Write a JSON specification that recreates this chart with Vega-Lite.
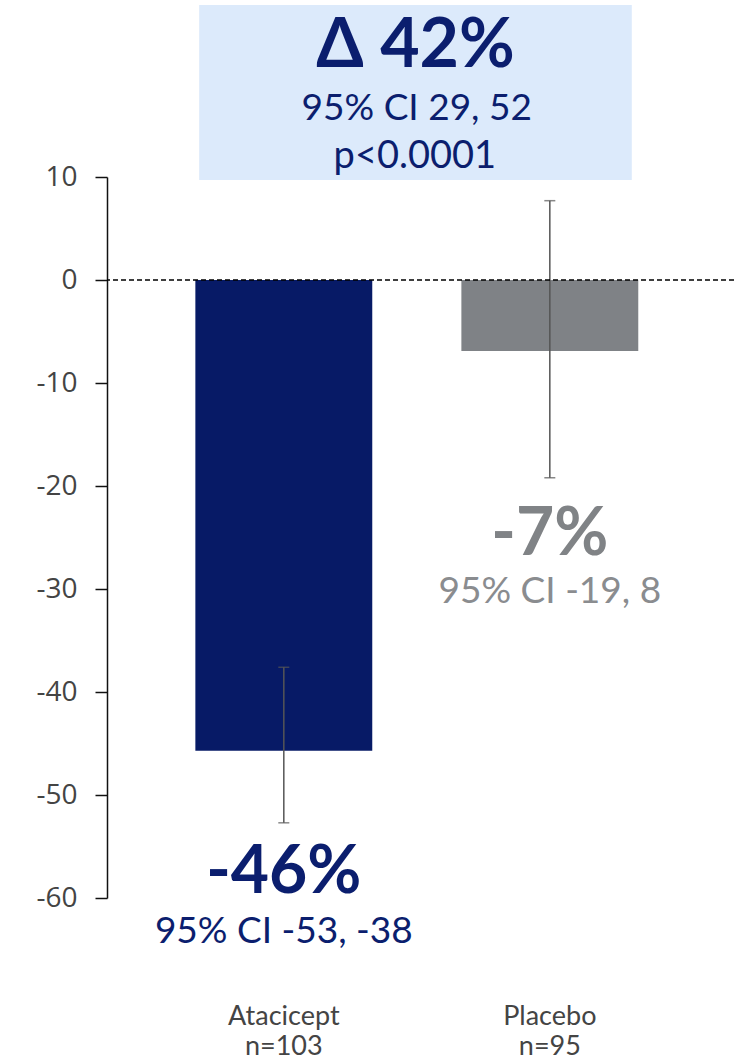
{
  "$schema": "https://vega.github.io/schema/vega-lite/v6.json",
  "autosize": {"type": "none"},
  "width": 627,
  "height": 721,
  "padding": {"left": 107, "top": 177, "right": 0, "bottom": 162},
  "background": "white",
  "config": {"view": {"stroke": null}},
  "datasets": {
    "arms": [
      {"arm": "Atacicept|n=103", "value": -45.7, "ci_low": -52.7, "ci_high": -37.6, "pct": "-46%", "ci": "95% CI -53, -38"},
      {"arm": "Placebo|n=95", "value": -6.9, "ci_low": -19.2, "ci_high": 7.7, "pct": "-7%", "ci": "95% CI -19, 8"}
    ],
    "diff": [
      {"delta": "Δ 42%", "ci": "95% CI 29, 52", "p": "p<0.0001"}
    ]
  },
  "layer": [
    {
      "data": {"name": "arms"},
      "encoding": {
        "x": {
          "field": "arm", "type": "nominal", "sort": null,
          "scale": {"paddingInner": 0.335, "paddingOuter": 0.346, "align": 0.48},
          "axis": {
            "title": null, "domain": false, "ticks": false, "labelAngle": 0,
            "labelExpr": "split(datum.label, '|')",
            "labelFont": "Lato", "labelFontSize": 27, "labelColor": "#444444",
            "labelLineHeight": 30, "labelPadding": 105
          }
        }
      },
      "layer": [
        {
          "mark": {"type": "bar"},
          "encoding": {
            "y": {
              "field": "value", "type": "quantitative",
              "scale": {"domain": [-60, 10], "nice": false, "zero": false},
              "axis": {
                "title": null, "values": [10, 0, -10, -20, -30, -40, -50, -60],
                "labelExpr": "toString(datum.value)",
                "grid": false, "domainColor": "#111111", "domainWidth": 1.5,
                "tickColor": "#111111", "tickWidth": 1.5, "tickSize": 12,
                "labelFont": "Open Sans", "labelFontSize": 28, "labelColor": "#444444",
                "labelPadding": 18
              }
            },
            "color": {
              "field": "arm", "type": "nominal", "legend": null,
              "scale": {"domain": ["Atacicept|n=103", "Placebo|n=95"], "range": ["#071A66", "#7F8286"]}
            }
          }
        },
        {
          "mark": {"type": "rule", "color": "#555555", "strokeWidth": 1.5},
          "encoding": {
            "y": {"field": "ci_low", "type": "quantitative"},
            "y2": {"field": "ci_high"}
          }
        },
        {
          "mark": {"type": "tick", "color": "#555555", "thickness": 1.5, "size": 11},
          "encoding": {"y": {"field": "ci_low", "type": "quantitative"}}
        },
        {
          "mark": {"type": "tick", "color": "#555555", "thickness": 1.5, "size": 11},
          "encoding": {"y": {"field": "ci_high", "type": "quantitative"}}
        },
        {
          "transform": [{"filter": "datum.value < -20"}],
          "layer": [
            {
              "mark": {"type": "text", "font": "Lato", "fontWeight": "bold", "fontSize": 66, "baseline": "alphabetic", "dy": 70, "color": "#0B1E6E"},
              "encoding": {"y": {"field": "ci_low", "type": "quantitative"}, "text": {"field": "pct"}}
            },
            {
              "mark": {"type": "text", "font": "Lato", "fontSize": 37, "baseline": "alphabetic", "dy": 120, "color": "#0B1E6E"},
              "encoding": {"y": {"field": "ci_low", "type": "quantitative"}, "text": {"field": "ci"}}
            }
          ]
        },
        {
          "transform": [{"filter": "datum.value >= -20"}],
          "layer": [
            {
              "mark": {"type": "text", "font": "Lato", "fontWeight": "bold", "fontSize": 66, "baseline": "alphabetic", "dy": 77, "color": "#808386"},
              "encoding": {"y": {"field": "ci_low", "type": "quantitative"}, "text": {"field": "pct"}}
            },
            {
              "mark": {"type": "text", "font": "Lato", "fontSize": 37, "baseline": "alphabetic", "dy": 125, "color": "#8A8C8F"},
              "encoding": {"y": {"field": "ci_low", "type": "quantitative"}, "text": {"field": "ci"}}
            }
          ]
        }
      ]
    },
    {
      "data": {"name": "diff"},
      "layer": [
        {
          "mark": {"type": "rule", "color": "#000000", "strokeWidth": 1.5, "strokeDash": [5, 3]},
          "encoding": {"y": {"datum": 0, "type": "quantitative"}}
        },
        {
          "mark": {"type": "rect", "color": "#DCEAFB"},
          "encoding": {
            "x": {"datum": 0.147, "type": "quantitative", "scale": {"domain": [0, 1], "nice": false}, "axis": null},
            "x2": {"datum": 0.837},
            "y": {"datum": 9.7, "type": "quantitative"},
            "y2": {"datum": 26.7}
          }
        },
        {
          "mark": {"type": "text", "font": "Lato", "fontWeight": "bold", "fontSize": 68, "baseline": "alphabetic", "color": "#0B1E6E"},
          "encoding": {
            "x": {"datum": 0.492, "type": "quantitative"},
            "y": {"datum": 20.68, "type": "quantitative"},
            "text": {"field": "delta"}
          }
        },
        {
          "mark": {"type": "text", "font": "Lato", "fontSize": 37, "baseline": "alphabetic", "color": "#0B1E6E"},
          "encoding": {
            "x": {"datum": 0.494, "type": "quantitative"},
            "y": {"datum": 15.53, "type": "quantitative"},
            "text": {"field": "ci"}
          }
        },
        {
          "mark": {"type": "text", "font": "Lato", "fontSize": 38, "baseline": "alphabetic", "color": "#0B1E6E"},
          "encoding": {
            "x": {"datum": 0.491, "type": "quantitative"},
            "y": {"datum": 10.87, "type": "quantitative"},
            "text": {"field": "p"}
          }
        }
      ]
    }
  ],
  "resolve": {"scale": {"x": "independent"}}
}
